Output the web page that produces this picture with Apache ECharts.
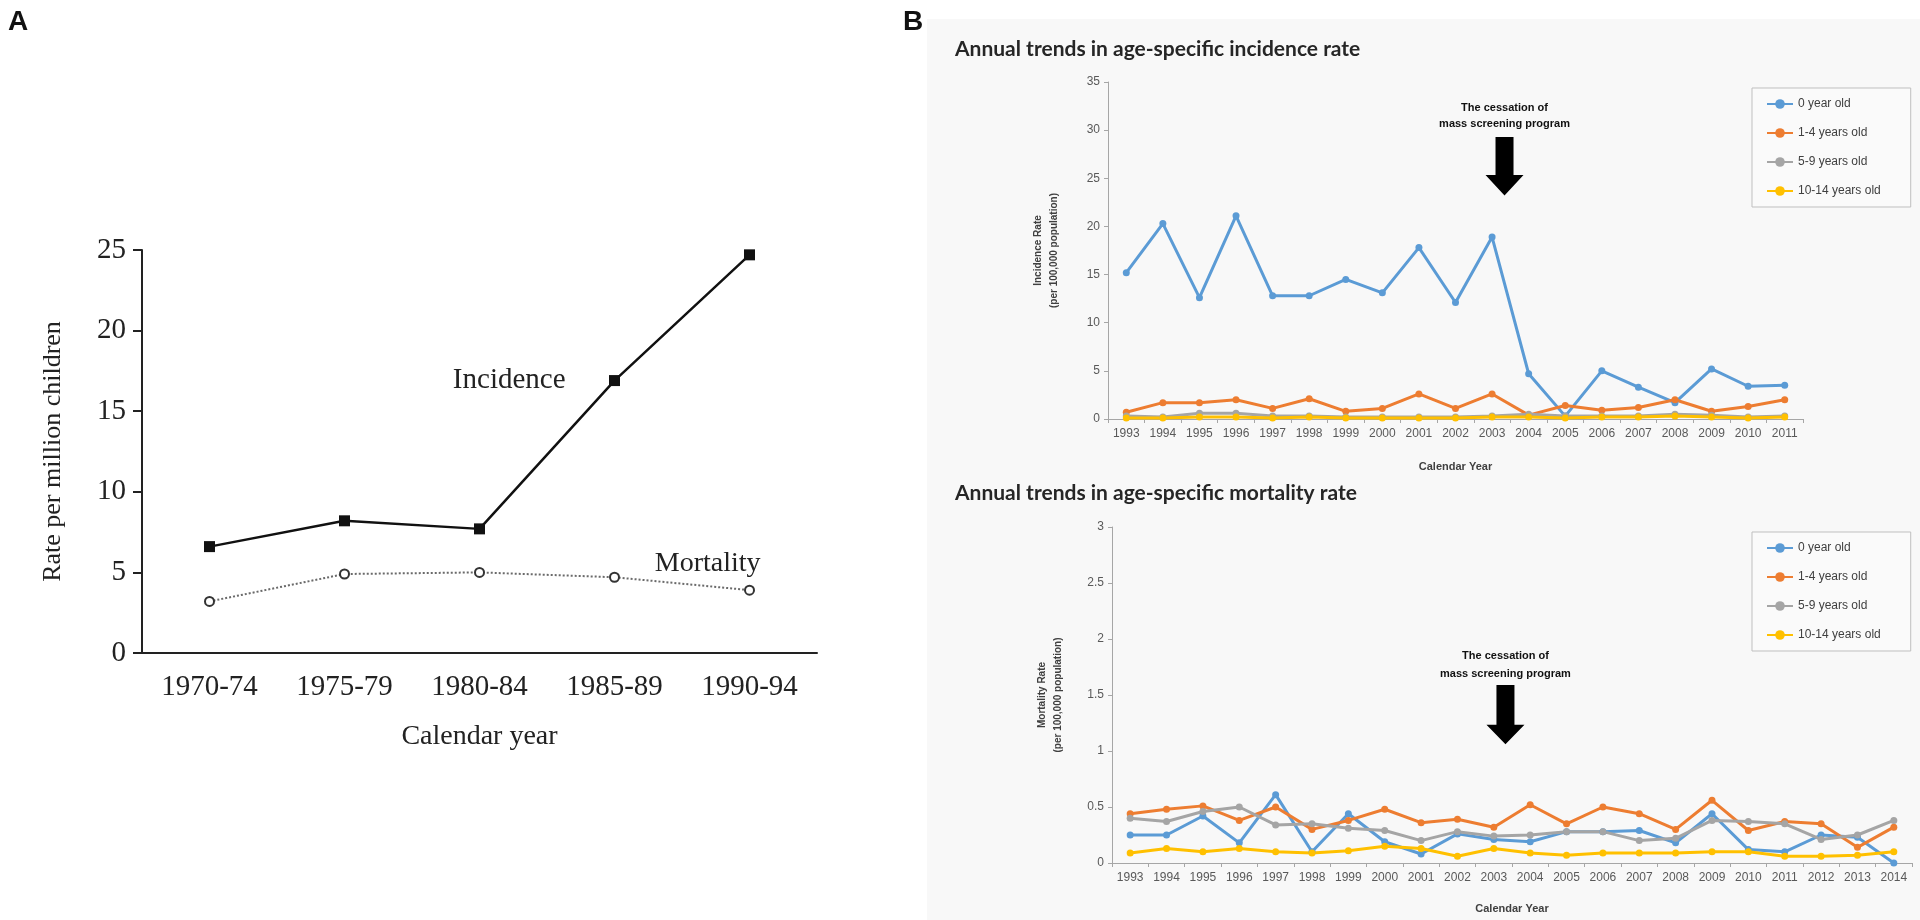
<!DOCTYPE html>
<html><head><meta charset="utf-8">
<script src="https://cdn.jsdelivr.net/npm/echarts@6/dist/echarts.min.js"></script>
<style>html,body{margin:0;padding:0;background:#fff}#c{width:1920px;height:920px}</style>
</head><body><div id="c"></div>
<script>
// ---------- Panel A data ----------
const periodsA = ['1970-74', '1975-79', '1980-84', '1985-89', '1990-94'];
const incidenceA = [6.6, 8.2, 7.7, 16.9, 24.7];
const mortalityA = [3.2, 4.9, 5.0, 4.7, 3.9];

// ---------- Panel B data ----------
const ageGroups = ['0 year old', '1-4 years old', '5-9 years old', '10-14 years old'];
const yearsInc = ['1993','1994','1995','1996','1997','1998','1999','2000','2001','2002','2003','2004','2005','2006','2007','2008','2009','2010','2011'];
const inc0   = [15.2, 20.3, 12.6, 21.1, 12.8, 12.8, 14.5, 13.1, 17.8, 12.1, 18.9, 4.7, 0.3, 5.0, 3.3, 1.7, 5.2, 3.4, 3.5];
const inc1_4 = [0.7, 1.7, 1.7, 2.0, 1.1, 2.1, 0.8, 1.1, 2.6, 1.1, 2.6, 0.4, 1.4, 0.9, 1.2, 2.0, 0.8, 1.3, 2.0];
const inc5_9 = [0.3, 0.2, 0.6, 0.6, 0.3, 0.3, 0.2, 0.2, 0.2, 0.2, 0.3, 0.5, 0.3, 0.3, 0.3, 0.5, 0.4, 0.2, 0.3];
const inc10_14 = [0.1, 0.1, 0.2, 0.2, 0.1, 0.2, 0.1, 0.1, 0.1, 0.1, 0.2, 0.2, 0.1, 0.2, 0.2, 0.3, 0.2, 0.1, 0.2];

const yearsMort = ['1993','1994','1995','1996','1997','1998','1999','2000','2001','2002','2003','2004','2005','2006','2007','2008','2009','2010','2011','2012','2013','2014'];
const mort0   = [0.25, 0.25, 0.42, 0.18, 0.61, 0.10, 0.44, 0.19, 0.08, 0.26, 0.21, 0.19, 0.28, 0.28, 0.29, 0.18, 0.44, 0.12, 0.10, 0.25, 0.23, 0.00];
const mort1_4 = [0.44, 0.48, 0.51, 0.38, 0.50, 0.30, 0.38, 0.48, 0.36, 0.39, 0.32, 0.52, 0.35, 0.50, 0.44, 0.30, 0.56, 0.29, 0.37, 0.35, 0.14, 0.32];
const mort5_9 = [0.40, 0.37, 0.46, 0.50, 0.34, 0.35, 0.31, 0.29, 0.20, 0.28, 0.24, 0.25, 0.28, 0.28, 0.20, 0.22, 0.38, 0.37, 0.35, 0.21, 0.25, 0.38];
const mort10_14 = [0.09, 0.13, 0.10, 0.13, 0.10, 0.09, 0.11, 0.15, 0.13, 0.06, 0.13, 0.09, 0.07, 0.09, 0.09, 0.09, 0.10, 0.10, 0.06, 0.06, 0.07, 0.10];

// annotation anchors (data space; x = fractional category index)
const arrowInc  = { x: 10.34, text1: 32.35, text2: 30.6, shaftTop: 29.3, shaftEnd: 25.35, tip: 23.2 };
const arrowMort = { x: 10.32, text1: 1.85, text2: 1.69, shaftTop: 1.59, shaftEnd: 1.235, tip: 1.06 };
const labelIncA = { x: 2.22, y: 16.9, text: 'Incidence' };
const labelMortA = { x: 3.69, y: 5.55, text: 'Mortality' };

const incSeries = [inc0, inc1_4, inc5_9, inc10_14];
const mortSeries = [mort0, mort1_4, mort5_9, mort10_14];
const ageColors = ['#5B9BD5', '#ED7D31', '#A5A5A5', '#FFC000'];

const chart = echarts.init(document.getElementById('c'));

const serif = 'Liberation Serif';
const sans = 'Liberation Sans';

function bAxisX(idx, data, nameGap) {
  return {
    type: 'category', gridIndex: idx, data: data, boundaryGap: true,
    axisLine: { lineStyle: { color: '#a6a6a6', width: 1 } },
    axisTick: { show: true, length: 4, lineStyle: { color: '#a6a6a6' } },
    axisLabel: { interval: 0, fontSize: 12, color: '#595959', fontFamily: sans, margin: 9 },
    name: 'Calendar Year', nameLocation: 'middle', nameGap: nameGap,
    nameTextStyle: { fontSize: 11, fontWeight: 'bold', color: '#404040', fontFamily: sans }
  };
}
function bAxisY(idx, max, interval, name) {
  return {
    type: 'value', gridIndex: idx, min: 0, max: max, interval: interval,
    axisLine: { show: true, lineStyle: { color: '#a6a6a6', width: 1 } },
    axisTick: { show: true, length: 4, lineStyle: { color: '#a6a6a6' } },
    splitLine: { show: false },
    axisLabel: { fontSize: 12, color: '#595959', fontFamily: sans, margin: 8 },
    name: name, nameLocation: 'middle', nameGap: 46, nameRotate: 90,
    nameTextStyle: { fontSize: 10, fontWeight: 'bold', color: '#404040', fontFamily: sans, lineHeight: 16 }
  };
}

const series = [
  {
    name: 'Incidence', type: 'line', xAxisIndex: 0, yAxisIndex: 0, data: incidenceA,
    symbol: 'rect', symbolSize: 11, lineStyle: { color: '#111', width: 2.5 },
    itemStyle: { color: '#111' }, z: 5
  },
  {
    name: 'Mortality', type: 'line', xAxisIndex: 0, yAxisIndex: 0, data: mortalityA,
    symbol: 'emptyCircle', symbolSize: 9, lineStyle: { color: '#6a6a6a', width: 2, type: 'dotted' },
    itemStyle: { color: '#333', borderColor: '#333', borderWidth: 1.6 }, z: 5
  }
];
ageGroups.forEach((g, i) => {
  series.push({
    name: g, type: 'line', xAxisIndex: 1, yAxisIndex: 1, data: incSeries[i],
    symbol: 'circle', symbolSize: 7, showAllSymbol: true,
    lineStyle: { color: ageColors[i], width: 3 }, itemStyle: { color: ageColors[i] }
  });
});
ageGroups.forEach((g, i) => {
  series.push({
    name: g, type: 'line', xAxisIndex: 2, yAxisIndex: 2, data: mortSeries[i],
    symbol: 'circle', symbolSize: 7, showAllSymbol: true,
    lineStyle: { color: ageColors[i], width: 3 }, itemStyle: { color: ageColors[i] }
  });
});

const legendBase = {
  data: ageGroups, orient: 'vertical', itemWidth: 26, itemHeight: 12, itemGap: 17,
  padding: [10, 30, 10, 14], borderColor: '#bfbfbf', borderWidth: 1, backgroundColor: '#fafafa',
  textStyle: { fontSize: 12, color: '#404040', fontFamily: sans }, selectedMode: false
};

chart.setOption({
  animation: false,
  backgroundColor: '#ffffff',
  grid: [
    { left: 142, top: 250, width: 675, height: 403 },
    { left: 1108, top: 82, width: 695, height: 337 },
    { left: 1112, top: 527, width: 800, height: 336 }
  ],
  xAxis: [
    {
      type: 'category', gridIndex: 0, data: periodsA, boundaryGap: true,
      axisLine: { lineStyle: { color: '#222', width: 2 } },
      axisTick: { alignWithLabel: true, length: 10, lineStyle: { color: '#222', width: 2 } },
      axisLabel: { fontSize: 29, color: '#222', fontFamily: serif, margin: 20 },
      name: 'Calendar year', nameLocation: 'middle', nameGap: 70,
      nameTextStyle: { fontSize: 28, color: '#222', fontFamily: serif }
    },
    bAxisX(1, yearsInc, 42),
    bAxisX(2, yearsMort, 40)
  ],
  yAxis: [
    {
      type: 'value', gridIndex: 0, min: 0, max: 25, interval: 5,
      axisLine: { show: true, lineStyle: { color: '#222', width: 2 } },
      axisTick: { show: true, length: 9, lineStyle: { color: '#222', width: 2 } },
      splitLine: { show: false },
      axisLabel: { fontSize: 29, color: '#222', fontFamily: serif, margin: 16 },
      name: 'Rate per million children', nameLocation: 'middle', nameGap: 76, nameRotate: 90,
      nameTextStyle: { fontSize: 26, color: '#222', fontFamily: serif }
    },
    bAxisY(1, 35, 5, 'Incidence Rate\n(per 100,000 population)'),
    bAxisY(2, 3, 0.5, 'Mortality Rate\n(per 100,000 population)')
  ],
  legend: [
    Object.assign({}, legendBase, { left: 1752, top: 88 }),
    Object.assign({}, legendBase, { left: 1752, top: 532 })
  ],
  series: series
});

// ---------- annotations positioned from data space ----------
function catPx(axisIdx, xf) {
  const a = Math.floor(xf), b = a + 1;
  const p0 = chart.convertToPixel({ xAxisIndex: axisIdx }, a);
  const p1 = chart.convertToPixel({ xAxisIndex: axisIdx }, b);
  return p0 + (xf - a) * (p1 - p0);
}
function valPx(axisIdx, v) { return chart.convertToPixel({ yAxisIndex: axisIdx }, v); }

function arrowShapes(ai, a) {
  const cx = catPx(ai, a.x);
  const t1 = valPx(ai, a.text1), t2 = valPx(ai, a.text2);
  const s0 = valPx(ai, a.shaftTop), s1 = valPx(ai, a.shaftEnd), tp = valPx(ai, a.tip);
  const hw = 9, hh = 19;
  return [
    { type: 'text', style: { text: 'The cessation of', x: cx, y: t1, align: 'center', verticalAlign: 'middle',
      font: 'bold 11px ' + sans, fill: '#111' }, z: 10 },
    { type: 'text', style: { text: 'mass screening program', x: cx, y: t2, align: 'center', verticalAlign: 'middle',
      font: 'bold 11px ' + sans, fill: '#111' }, z: 10 },
    { type: 'polygon', shape: { points: [
      [cx - hw, s0], [cx + hw, s0], [cx + hw, s1], [cx + hh, s1],
      [cx, tp], [cx - hh, s1], [cx - hw, s1] ] },
      style: { fill: '#000' }, z: 10 }
  ];
}
const liX = catPx(0, labelIncA.x), liY = valPx(0, labelIncA.y);
const lmX = catPx(0, labelMortA.x), lmY = valPx(0, labelMortA.y);
chart.setOption({
  graphic: [
    { type: 'rect', shape: { x: 927, y: 19, width: 993, height: 901 }, style: { fill: '#f8f8f8' }, z: -100, silent: true },
    { type: 'text', style: { text: 'A', x: 8, y: 8, font: 'bold 28px ' + sans, fill: '#111' } },
    { type: 'text', style: { text: 'B', x: 903, y: 8, font: 'bold 28px ' + sans, fill: '#111' } },
    { type: 'text', style: { text: 'Annual trends in age-specific incidence rate', x: 955, y: 49, verticalAlign: 'middle',
      font: 'bold 21px Lato', fill: '#262626' } },
    { type: 'text', style: { text: 'Annual trends in age-specific mortality rate', x: 955, y: 493, verticalAlign: 'middle',
      font: 'bold 21px Lato', fill: '#262626' } },
    { type: 'text', style: { text: labelIncA.text, x: liX, y: liY, align: 'center', verticalAlign: 'middle',
      font: '29px ' + serif, fill: '#222' } },
    { type: 'text', style: { text: labelMortA.text, x: lmX, y: lmY, align: 'center', verticalAlign: 'middle',
      font: '28px ' + serif, fill: '#222' } }
  ].concat(arrowShapes(1, arrowInc), arrowShapes(2, arrowMort))
});
</script>
</body></html>
